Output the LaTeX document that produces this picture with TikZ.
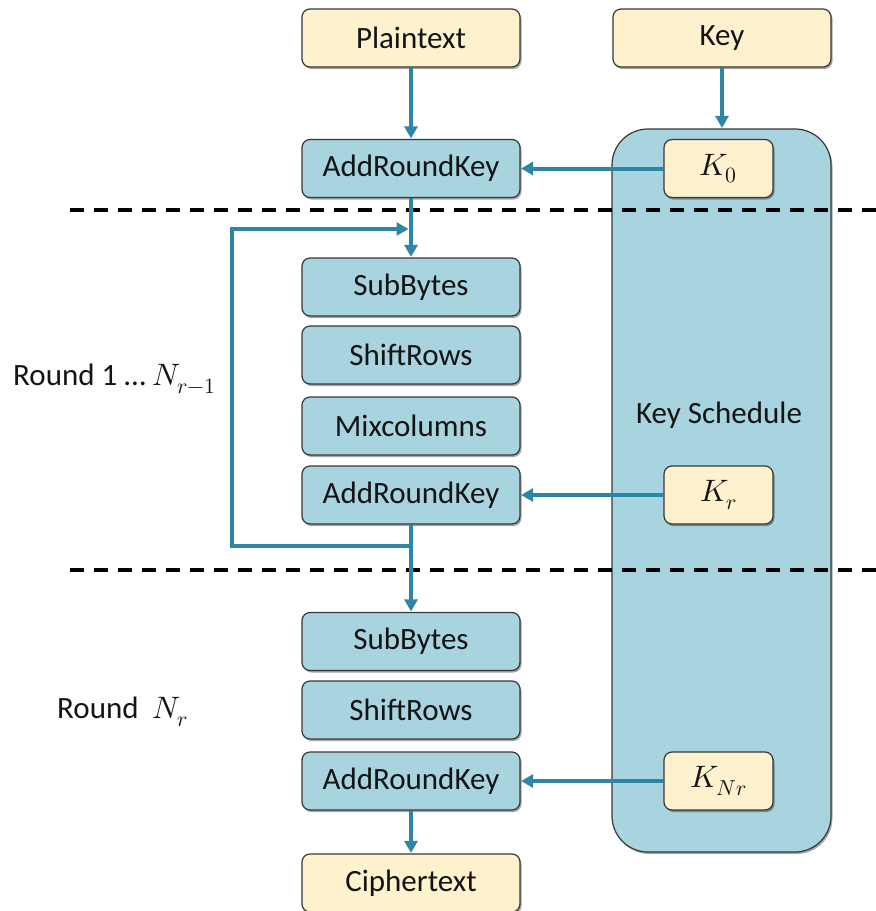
\documentclass[tikz,border=0pt]{standalone}
\usepackage{unicode-math}
\setmainfont{Carlito}
\setmathfont{Latin Modern Math}
\usetikzlibrary{arrows.meta,shadows}
\definecolor{boxblue}{RGB}{168,212,224}
\definecolor{boxcream}{RGB}{254,241,206}
\definecolor{arrowteal}{RGB}{46,134,166}
\definecolor{edgegray}{RGB}{55,55,55}
\definecolor{txt}{RGB}{20,20,20}
\begin{document}
\begin{tikzpicture}[x=1pt,y=-1pt,
  base/.style={draw=edgegray, line width=1.2pt, rounded corners=8pt,
    minimum width=218pt, minimum height=58pt, inner sep=0pt, text=txt,
    font=\fontsize{31}{36}\selectfont,
    drop shadow={shadow xshift=1.5pt, shadow yshift=-2pt, opacity=0.35, fill=black}},
  bluebox/.style={base, fill=boxblue},
  creambox/.style={base, fill=boxcream},
  keybox/.style={base, fill=boxcream, minimum width=109pt},
  arr/.style={draw=arrowteal, line width=4pt,
    -{Triangle[length=12pt,width=13pt]}, shorten >=0.5pt},
  loopline/.style={draw=arrowteal, line width=4pt},
  dashline/.style={draw=black, line width=3.5pt, dash pattern=on 14pt off 10pt},
  lbl/.style={text=txt, font=\fontsize{31}{36}\selectfont, inner sep=0pt}
]
\useasboundingbox (0,0) rectangle (876,911);

% key schedule big box
\node[draw=edgegray, line width=1.2pt, fill=boxblue, rounded corners=36pt,
  minimum width=219pt, minimum height=723pt, inner sep=0pt,
  drop shadow={shadow xshift=1.5pt, shadow yshift=-2pt, opacity=0.35, fill=black}]
  (ks) at (721.5,490.5) {};
\node[lbl] (kstext) at (719,415) {Key Schedule};

% top row
\node[creambox] (plain) at (411,38) {Plaintext};
\node[creambox] (key) at (722,38) {Key};

% initial round
\node[bluebox] (ark0) at (411,168.5) {AddRoundKey};
\node[keybox] (k0) at (718.5,168.5) {$K_0$};

% rounds 1 .. Nr-1
\node[bluebox] (sb1) at (411,287) {SubBytes};
\node[bluebox] (sr1) at (411,355) {ShiftRows};
\node[bluebox] (mc1) at (411,426) {Mixcolumns};
\node[bluebox] (ark1) at (411,495) {AddRoundKey};
\node[keybox] (kr) at (718.5,495) {$K_r$};

% final round
\node[bluebox] (sb2) at (411,641.5) {SubBytes};
\node[bluebox] (sr2) at (411,710) {ShiftRows};
\node[bluebox] (ark2) at (411,781) {AddRoundKey};
\node[keybox] (knr) at (718.5,781) {$K_{Nr}$};
\node[creambox] (ct) at (411,883) {Ciphertext};

% labels
\node[lbl, anchor=west] (r1lbl) at (13,379) {Round 1 … $N_{r-1}$};
\node[lbl, anchor=west] (rnlbl) at (57,712) {Round\ \ $N_r$};

% dashed separators
\draw[dashline] (70,210) -- (876,210);
\draw[dashline] (70,570) -- (876,570);

% connectors
\draw[arr] (plain) -- (ark0);
\draw[arr] (key.south) -- (key.south |- ks.north);
\draw[arr] (k0) -- (ark0);
\draw[arr] (ark0) -- (sb1);
\draw[arr] (kr) -- (ark1);
\draw[arr] (knr) -- (ark2);
\draw[arr] (ark1) -- (sb2);
\draw[arr] (ark2) -- (ct);

\coordinate (mb) at (411,546);
\coordinate (lb) at (232,546);
\coordinate (lt) at (232,229);
\coordinate (mt) at (409,229);
\draw[loopline] (ark1.south) -- (mb) -- (lb) -- (lt);
\draw[arr, line cap=butt] ([xshift=-2pt]lt) -- (mt);
\end{tikzpicture}
\end{document}
